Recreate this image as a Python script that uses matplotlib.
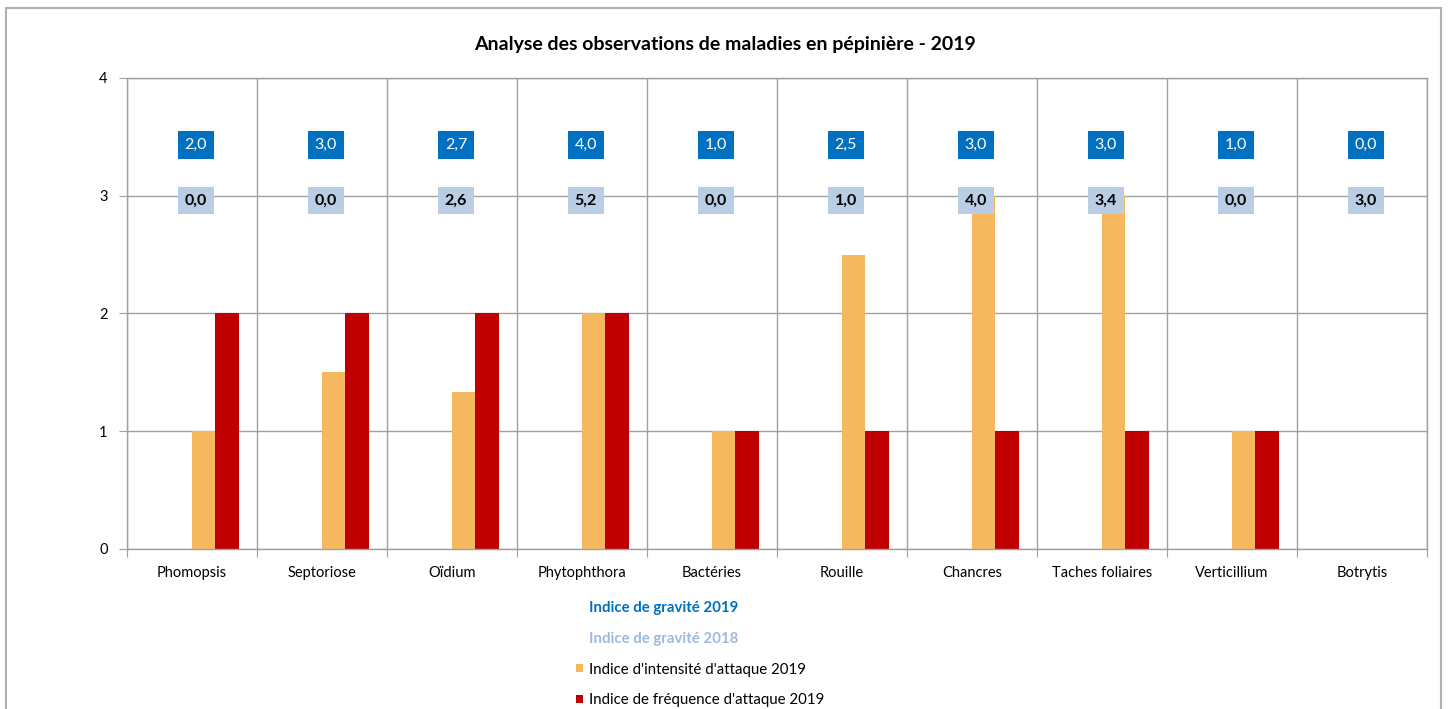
import numpy as np
import matplotlib.pyplot as plt
from matplotlib.patches import Patch, Rectangle

plt.rcParams['font.family'] = ['Lato', 'DejaVu Sans']

maladies = ['Phomopsis', 'Septoriose', 'Oïdium', 'Phytophthora', 'Bactéries',
            'Rouille', 'Chancres', 'Taches foliaires', 'Verticillium', 'Botrytis']
gravite_2019 = [2.0, 3.0, 2.7, 4.0, 1.0, 2.5, 3.0, 3.0, 1.0, 0.0]
gravite_2018 = [0.0, 0.0, 2.6, 5.2, 0.0, 1.0, 4.0, 3.4, 0.0, 3.0]
intensite_2019 = [1.0, 1.5, 1.33, 2.0, 1.0, 2.5, 3.0, 3.0, 1.0, 0.0]
frequence_2019 = [2.0, 2.0, 2.0, 2.0, 1.0, 1.0, 1.0, 1.0, 1.0, 0.0]

c_grav19 = '#0070C0'
c_grav18 = '#B9CDE5'
c_grav18_txt = '#9DB9DF'
c_int = '#F6B85E'
c_freq = '#C00000'
c_grid = '#A0A0A0'

fig = plt.figure(figsize=(14.5, 7.09), dpi=100)
ax = fig.add_axes([0.0876, 0.2257, 0.8965, 0.6643])

x = np.arange(len(maladies)) + 0.5
w = 0.18
ax.bar(x + w / 2, intensite_2019, w, color=c_int, zorder=2)
ax.bar(x + 1.5 * w, frequence_2019, w, color=c_freq, zorder=2)

for xi, g19, g18 in zip(x, gravite_2019, gravite_2018):
    ax.text(xi + 0.03, 3.43, f'{g19:.1f}'.replace('.', ','), ha='center', va='center',
            fontsize=11.5, color='white', zorder=4,
            bbox=dict(boxstyle='square,pad=0.42', fc=c_grav19, ec='none'))
    ax.text(xi + 0.03, 2.96, f'{g18:.1f}'.replace('.', ','), ha='center', va='center',
            fontsize=11.5, color='black', fontweight='bold', zorder=4,
            bbox=dict(boxstyle='square,pad=0.42', fc=c_grav18, ec='none'))

ax.set_xlim(0, len(maladies))
ax.set_ylim(0, 4)
ax.set_yticks([0, 1, 2, 3, 4])
ax.set_xticks(np.arange(len(maladies) + 1))
ax.set_xticklabels([])
ax.set_xticks(x, maladies, minor=True)
ax.tick_params(axis='x', which='minor', length=0, labelsize=10.5, pad=12)
ax.tick_params(axis='x', which='major', length=6, color=c_grid)
ax.tick_params(axis='y', length=6, color=c_grid, labelsize=10.5, pad=8)
ax.grid(True, which='major', color=c_grid, linewidth=1, zorder=0)
ax.set_axisbelow(True)
for s in ax.spines.values():
    s.set_color(c_grid)
    s.set_linewidth(1)

fig.text(0.5, 0.937, 'Analyse des observations de maladies en pépinière - 2019',
         ha='center', va='center', fontsize=14, fontweight='bold')

handles = [Patch(fc='none', ec='none'), Patch(fc='none', ec='none'),
           Patch(fc=c_int), Patch(fc=c_freq)]
labels = ['Indice de gravité 2019', 'Indice de gravité 2018',
          "Indice d'intensité d'attaque 2019", "Indice de fréquence d'attaque 2019"]
leg = fig.legend(handles, labels, loc='upper left', bbox_to_anchor=(0.392, 0.163),
                 frameon=False, fontsize=10.8, handlelength=0.5, handleheight=0.5,
                 handletextpad=0.35, labelspacing=1.12, borderpad=0)
for t, col, wt in zip(leg.get_texts(), [c_grav19, c_grav18_txt, 'black', 'black'],
                      ['bold', 'bold', 'normal', 'normal']):
    t.set_color(col)
    t.set_fontweight(wt)

fig.patches.append(Rectangle((0.0041, -0.05), 0.9897, 1.0387, transform=fig.transFigure,
                             fill=False, ec='#B0B0B0', lw=1.5))

fig.savefig('out.png', dpi=100)
